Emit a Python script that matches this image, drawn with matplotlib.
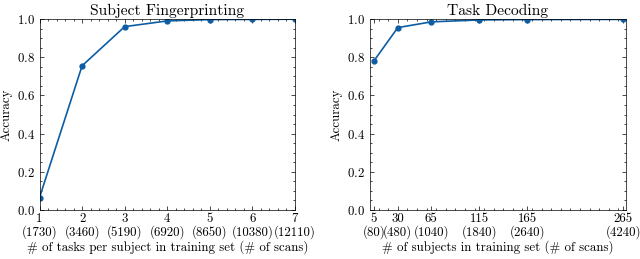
import matplotlib
matplotlib.use('Agg')
import matplotlib.pyplot as plt
from matplotlib.ticker import AutoMinorLocator, MultipleLocator

# Subject fingerprinting: tasks per subject vs accuracy
fp_tasks = [1, 2, 3, 4, 5, 6, 7]
fp_scans = [1730, 3460, 5190, 6920, 8650, 10380, 12110]
fp_acc = [0.065, 0.755, 0.960, 0.990, 0.997, 0.998, 0.999]

# Task decoding: subjects vs accuracy
td_subjects = [5, 30, 65, 115, 165, 265]
td_scans = [80, 480, 1040, 1840, 2640, 4240]
td_acc = [0.780, 0.955, 0.985, 0.995, 0.997, 0.998]

plt.rcParams['font.family'] = ['cmr10', 'DejaVu Serif']
plt.rcParams['mathtext.fontset'] = 'cm'
plt.rcParams['axes.formatter.use_mathtext'] = True
plt.rcParams['font.size'] = 9.3
plt.rcParams['xtick.direction'] = 'in'
plt.rcParams['ytick.direction'] = 'in'
plt.rcParams['xtick.top'] = True
plt.rcParams['ytick.right'] = True
plt.rcParams['xtick.minor.visible'] = True
plt.rcParams['ytick.minor.visible'] = True
plt.rcParams['xtick.major.size'] = 3
plt.rcParams['ytick.major.size'] = 3
plt.rcParams['xtick.minor.size'] = 1.5
plt.rcParams['ytick.minor.size'] = 1.5
plt.rcParams['axes.linewidth'] = 0.5
plt.rcParams['xtick.major.width'] = 0.5
plt.rcParams['ytick.major.width'] = 0.5
plt.rcParams['xtick.minor.width'] = 0.5
plt.rcParams['ytick.minor.width'] = 0.5

color = '#0C5DA5'

fig = plt.figure(figsize=(6.4, 2.59), dpi=100)
ax1 = fig.add_axes([39.5 / 640, 1 - 210 / 259, 255.5 / 640, 191 / 259])
ax2 = fig.add_axes([370 / 640, 1 - 210 / 259, 256 / 640, 191 / 259])

ax1.plot(fp_tasks, fp_acc, marker='o', markersize=3.5, color=color, lw=1.2)
ax1.set_xlim(1, 7)
ax1.set_xticks(fp_tasks)
ax1.set_xticklabels([f'{t}\n({s})' for t, s in zip(fp_tasks, fp_scans)],
                    linespacing=1.0)
ax1.xaxis.set_minor_locator(AutoMinorLocator(5))
ax1.set_title('Subject Fingerprinting', pad=3)
ax1.set_xlabel('# of tasks per subject in training set (# of scans)', labelpad=1)

ax2.plot(td_subjects, td_acc, marker='o', markersize=3.5, color=color, lw=1.2)
ax2.set_xlim(1, 268)
ax2.set_xticks(td_subjects)
ax2.set_xticklabels([f'{t}\n({s})' for t, s in zip(td_subjects, td_scans)],
                    linespacing=1.0)
ax2.xaxis.set_minor_locator(MultipleLocator(10))
ax2.set_title('Task Decoding', pad=3)
ax2.set_xlabel('# of subjects in training set (# of scans)', labelpad=1)

for ax in (ax1, ax2):
    ax.set_ylim(0, 1)
    ax.yaxis.set_major_locator(MultipleLocator(0.2))
    ax.yaxis.set_minor_locator(MultipleLocator(0.05))
    ax.set_ylabel('Accuracy', labelpad=3)
    ax.tick_params(axis='x', pad=2)

fig.savefig('out.png', dpi=100)
